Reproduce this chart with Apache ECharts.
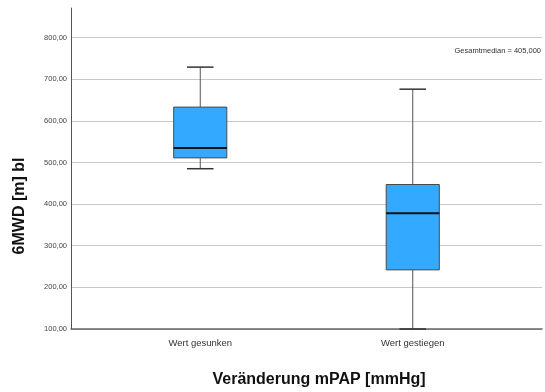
<!DOCTYPE html>
<html>
<head>
<meta charset="utf-8">
<script src="https://cdn.jsdelivr.net/npm/echarts@6/dist/echarts.min.js"></script>
<style>
  html, body { margin: 0; padding: 0; background: #fff; }
  #main { width: 545px; height: 392px; }
</style>
</head>
<body>
<div id="main"></div>
<script>
// Gruppen und Kennwerte (min, Q1, Median, Q3, max)
var categories = ['Wert gesunken', 'Wert gestiegen'];
var boxMin    = [485, 100];
var boxQ1     = [511, 242];
var boxMedian = [535, 378];
var boxQ3     = [633, 447];
var boxMax    = [729, 676];
var yTicks = [100, 200, 300, 400, 500, 600, 700, 800];
var medianNote = 'Gesamtmedian = 405,000';

var narrow = "'Liberation Sans Narrow', 'Liberation Sans', Arial, sans-serif";

var boxData = [];
for (var i = 0; i < categories.length; i++) {
    boxData.push([i, boxMin[i], boxQ1[i], boxMedian[i], boxQ3[i], boxMax[i]]);
}

// zeichnet einen Boxplot (Whisker halb so breit wie die Box)
function renderBox(params, api) {
    var x = api.value(0);
    var band = api.size([1, 0])[0];
    var half = band * 0.125;
    var cap = band * 0.0625;
    var pMin = api.coord([x, api.value(1)]);
    var pQ1 = api.coord([x, api.value(2)]);
    var pMed = api.coord([x, api.value(3)]);
    var pQ3 = api.coord([x, api.value(4)]);
    var pMax = api.coord([x, api.value(5)]);
    var cx = pMed[0];
    var lineStyle = { stroke: '#555', lineWidth: 1 };
    return {
        type: 'group',
        children: [
            { type: 'line', shape: { x1: cx, y1: pQ3[1], x2: cx, y2: pMax[1] }, style: lineStyle },
            { type: 'line', shape: { x1: cx, y1: pQ1[1], x2: cx, y2: pMin[1] }, style: lineStyle },
            { type: 'line', shape: { x1: cx - cap, y1: pMax[1], x2: cx + cap, y2: pMax[1] }, style: { stroke: '#333', lineWidth: 1.5 } },
            { type: 'line', shape: { x1: cx - cap, y1: pMin[1], x2: cx + cap, y2: pMin[1] }, style: { stroke: '#333', lineWidth: 1.5 } },
            { type: 'rect', shape: { x: cx - half, y: pQ3[1], width: half * 2, height: pQ1[1] - pQ3[1] },
              style: { fill: '#33aaff', stroke: '#4a4a4a', lineWidth: 1 } },
            { type: 'line', shape: { x1: cx - half, y1: pMed[1], x2: cx + half, y2: pMed[1] }, style: { stroke: '#111', lineWidth: 2 } }
        ]
    };
}

var chart = echarts.init(document.getElementById('main'), null, { renderer: 'canvas' });

var option = {
    backgroundColor: '#fff',
    animation: false,
    grid: [
        { left: 71, right: 3, top: 8, bottom: 63 },
        { left: 94, right: 26, top: 8, bottom: 63 }
    ],
    xAxis: [
        {
            gridIndex: 0, type: 'category', data: categories,
            axisLine: { lineStyle: { color: '#666', width: 1.5 } },
            axisTick: { show: false }, axisLabel: { show: false }, splitLine: { show: false }
        },
        {
            gridIndex: 1, type: 'category', data: categories,
            axisLine: { show: false }, axisTick: { show: false },
            axisLabel: { fontFamily: narrow, fontSize: 9.5, color: '#333', margin: 9 }
        }
    ],
    yAxis: [
        {
            gridIndex: 0, type: 'value', min: 100, max: 871, interval: 100,
            axisLine: { show: true, lineStyle: { color: '#555', width: 1 } },
            axisTick: { show: false },
            axisLabel: {
                fontFamily: narrow, fontSize: 7.5, color: '#444', margin: 4,
                showMaxLabel: false,
                formatter: function (v) {
                    if (yTicks.indexOf(v) < 0) return '';
                    return v.toFixed(2).replace('.', ',');
                }
            },
            splitLine: { show: true, showMaxLine: false, lineStyle: { color: '#c8c8c8', width: 1 } }
        },
        {
            gridIndex: 1, type: 'value', min: 100, max: 871,
            show: false
        }
    ],
    series: [
        {
            type: 'custom',
            xAxisIndex: 1, yAxisIndex: 1,
            renderItem: renderBox,
            encode: { x: 0, y: [1, 2, 3, 4, 5] },
            data: boxData,
            clip: false
        }
    ],
    graphic: [
        {
            type: 'text', right: 4, top: 47,
            style: { text: medianNote, fontFamily: narrow, fontSize: 7.5, fill: '#333' }
        },
        {
            type: 'text', x: 319, y: 380,
            style: { text: 'Veränderung mPAP [mmHg]', fontFamily: "'Liberation Sans', Arial, sans-serif",
                     fontWeight: 'bold', fontSize: 16, fill: '#111', align: 'center', verticalAlign: 'middle' }
        },
        {
            type: 'text', x: 20, y: 206, rotation: Math.PI / 2,
            style: { text: '6MWD [m] bl', fontFamily: "'Liberation Sans', Arial, sans-serif",
                     fontWeight: 'bold', fontSize: 16, fill: '#111', align: 'center', verticalAlign: 'middle' }
        }
    ]
};

chart.setOption(option);
</script>
</body>
</html>
